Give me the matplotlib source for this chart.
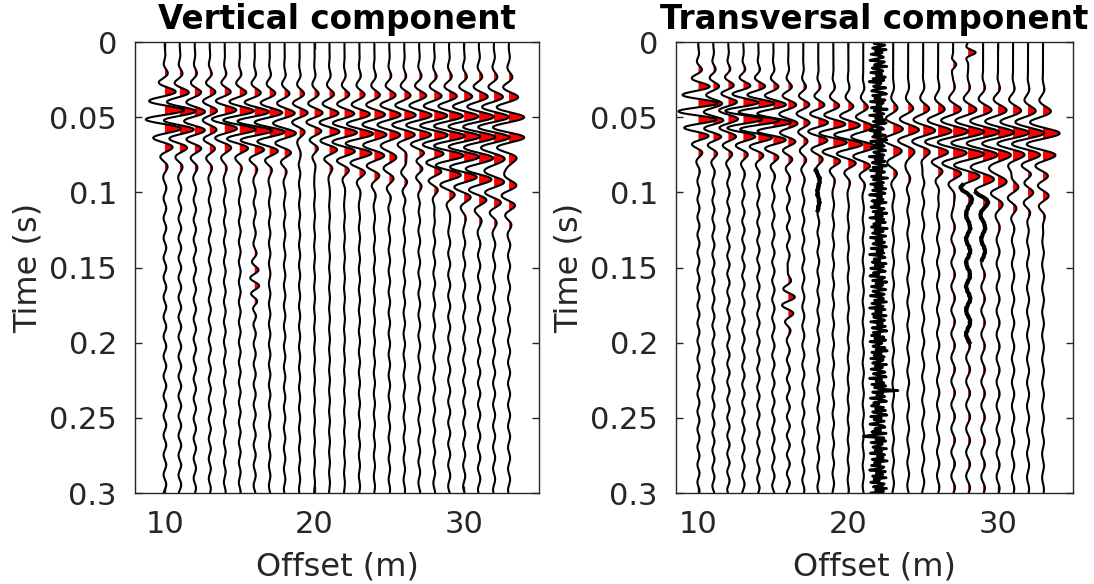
import numpy as np
import matplotlib
matplotlib.use("Agg")
import matplotlib.pyplot as plt

# receiver offsets (m)
offsets = list(range(10, 34))

# vertical component: main (flat) wave train, one value per trace
v_amp = [0.85, 0.85, 0.84, 0.82, 0.80, 0.78, 0.75, 0.72, 0.68, 0.65, 0.64, 0.64,
         0.66, 0.70, 0.74, 0.78, 0.82, 0.86, 0.90, 0.93, 0.96, 0.98, 1.00, 1.02]
v_center = [0.050, 0.050, 0.051, 0.051, 0.052, 0.052, 0.053, 0.053, 0.054, 0.054, 0.055, 0.055,
            0.055, 0.056, 0.056, 0.056, 0.057, 0.057, 0.057, 0.058, 0.058, 0.058, 0.058, 0.058]
v_phase = [0.0450, 0.0452, 0.0454, 0.0457, 0.0459, 0.0461, 0.0463, 0.0465, 0.0468, 0.0470, 0.0472, 0.0474,
           0.0476, 0.0479, 0.0481, 0.0483, 0.0485, 0.0487, 0.0490, 0.0492, 0.0494, 0.0496, 0.0498, 0.0500]
v_period = [0.0125, 0.0125, 0.0126, 0.0126, 0.0127, 0.0127, 0.0128, 0.0128, 0.0129, 0.0129, 0.0130, 0.0130,
            0.0130, 0.0131, 0.0131, 0.0132, 0.0132, 0.0133, 0.0133, 0.0134, 0.0134, 0.0135, 0.0135, 0.0135]
v_width = [0.023, 0.023, 0.023, 0.023, 0.022, 0.022, 0.022, 0.022, 0.022, 0.022, 0.022, 0.023,
           0.023, 0.024, 0.024, 0.025, 0.025, 0.026, 0.026, 0.027, 0.027, 0.028, 0.028, 0.028]
# vertical component: slower dipping wave train
v_amp2 = [0.42, 0.42, 0.42, 0.42, 0.41, 0.40, 0.39, 0.38, 0.37, 0.36, 0.36, 0.36,
          0.37, 0.38, 0.40, 0.42, 0.45, 0.48, 0.51, 0.54, 0.56, 0.58, 0.60, 0.60]
v_center2 = [0.046, 0.048, 0.050, 0.052, 0.055, 0.057, 0.059, 0.061, 0.063, 0.066, 0.068, 0.070,
             0.072, 0.074, 0.077, 0.079, 0.081, 0.083, 0.085, 0.088, 0.090, 0.092, 0.094, 0.096]
v_width2 = [0.016, 0.016, 0.016, 0.016, 0.016, 0.016, 0.016, 0.016, 0.016, 0.016, 0.016, 0.016,
            0.017, 0.017, 0.017, 0.018, 0.018, 0.018, 0.019, 0.019, 0.019, 0.020, 0.020, 0.020]
v_coda = [0.09, 0.09, 0.08, 0.07, 0.06, 0.06, 0.07, 0.05, 0.05, 0.04, 0.03, 0.03,
          0.03, 0.04, 0.04, 0.05, 0.05, 0.06, 0.06, 0.07, 0.07, 0.08, 0.07, 0.07]
# extra wave packets: (offset, time, amplitude, width)
v_extra = [(16, 0.162, 0.35, 0.016)]

# transversal component: main wave train
h_amp = [1.00, 0.98, 0.95, 0.92, 0.88, 0.84, 0.76, 0.70, 0.65, 0.62, 0.60, 0.60,
         0.0, 0.70, 0.78, 0.84, 0.88, 0.92, 0.96, 0.98, 1.00, 1.02, 1.05, 1.08]
h_center = [0.046, 0.047, 0.048, 0.049, 0.050, 0.052, 0.054, 0.056, 0.058, 0.060, 0.062, 0.063,
            0.064, 0.064, 0.064, 0.064, 0.064, 0.064, 0.064, 0.064, 0.064, 0.064, 0.064, 0.064]
h_phase = [0.0400, 0.0402, 0.0404, 0.0406, 0.0408, 0.0410, 0.0413, 0.0416, 0.0419, 0.0422, 0.0425, 0.0428,
           0.0431, 0.0434, 0.0437, 0.0440, 0.0442, 0.0444, 0.0446, 0.0448, 0.0450, 0.0452, 0.0454, 0.0456]
h_period = [0.0112, 0.0113, 0.0114, 0.0115, 0.0116, 0.0118, 0.0120, 0.0122, 0.0124, 0.0126, 0.0128, 0.0130,
            0.0135, 0.0140, 0.0145, 0.0148, 0.0150, 0.0150, 0.0150, 0.0150, 0.0150, 0.0150, 0.0150, 0.0150]
h_width = [0.022, 0.022, 0.022, 0.022, 0.022, 0.022, 0.022, 0.022, 0.022, 0.022, 0.022, 0.022,
           0.022, 0.020, 0.020, 0.021, 0.021, 0.022, 0.022, 0.022, 0.022, 0.021, 0.020, 0.020]
# transversal component: slower dipping wave train
h_amp2 = [0.50, 0.50, 0.48, 0.46, 0.45, 0.44, 0.42, 0.40, 0.38, 0.36, 0.35, 0.35,
          0.0, 0.35, 0.36, 0.38, 0.40, 0.42, 0.44, 0.46, 0.46, 0.45, 0.44, 0.42]
h_center2 = [0.042, 0.045, 0.047, 0.050, 0.052, 0.055, 0.058, 0.060, 0.063, 0.066, 0.068, 0.071,
             0.073, 0.076, 0.079, 0.081, 0.084, 0.086, 0.089, 0.092, 0.094, 0.097, 0.100, 0.102]
h_width2 = [0.016] * 24
h_coda = [0.07, 0.07, 0.08, 0.08, 0.08, 0.08, 0.10, 0.07, 0.06, 0.05, 0.04, 0.04,
          0.0, 0.05, 0.06, 0.07, 0.08, 0.12, 0.13, 0.12, 0.10, 0.08, 0.07, 0.06]
h_extra = [(16, 0.170, 0.40, 0.015), (28, 0.007, 0.50, 0.004), (27, 0.015, 0.20, 0.005)]
# jittery stretches on some traces: (offset, start, end, scale)
h_jitter = [(18, 0.085, 0.112, 0.10), (28, 0.095, 0.200, 0.08), (29, 0.100, 0.145, 0.06)]

# noisy trace (offset 22), sampled every 1 ms
noise_22 = [
    0.10, -0.22, 0.35, 0.05, -0.30, 0.42, -0.15, 0.20, -0.38, 0.12, 0.28, -0.05, -0.44, 0.33, 0.08,
    -0.20, 0.46, -0.32, 0.02, 0.25, -0.40, 0.18, -0.10, 0.38, -0.28, 0.30, -0.48, 0.15, 0.05, -0.25,
    0.40, -0.12, -0.35, 0.22, 0.44, -0.30, 0.10, -0.18, 0.36, -0.42, 0.26, -0.06, 0.14, -0.38, 0.48,
    -0.22, 0.04, 0.30, -0.46, 0.20, -0.14, 0.34, -0.26, 0.42, -0.08, -0.34, 0.18, 0.28, -0.44, 0.12,
    -0.20, 0.38, -0.30, 0.06, 0.46, -0.40, 0.22, -0.12, 0.32, -0.36, 0.16, 0.40, -0.24, -0.02, 0.30,
    -0.48, 0.24, -0.16, 0.36, -0.32, 0.10, 0.44, -0.28, 0.20, -0.42, 0.34, -0.08, 0.14, -0.36, 0.50,
    -0.26, 0.08, 0.28, -0.40, 0.22, -0.18, 0.40, -0.30, 0.12, 0.36, -0.46, 0.18, -0.04, 0.26, -0.34,
    0.42, -0.20, 0.06, -0.38, 0.32, 0.16, -0.28, 0.46, -0.14, 0.22, -0.44, 0.30, -0.10, 0.38, -0.24,
    0.10, -0.36, 0.48, -0.18, 0.26, -0.30, 0.04, 0.40, -0.42, 0.20, -0.12, 0.34, -0.28, 0.14, 0.44,
    -0.38, 0.24, -0.06, 0.30, -0.46, 0.18, 0.36, -0.22, 0.08, -0.32, 0.42, -0.16, 0.28, -0.40, 0.12,
    0.38, -0.26, 0.02, -0.44, 0.34, 0.20, -0.30, 0.46, -0.12, 0.24, -0.36, 0.10, 0.40, -0.28, -0.08,
    0.32, -0.42, 0.18, 0.28, -0.20, 0.44, -0.34, 0.06, 0.26, -0.46, 0.36, -0.14, 0.16, -0.30, 0.42,
    -0.24, 0.10, 0.34, -0.40, 0.22, -0.04, 0.38, -0.32, 0.14, 0.46, -0.26, 0.08, -0.36, 0.30, -0.18,
    0.40, -0.44, 0.20, 0.02, -0.28, 0.36, -0.12, 0.48, -0.34, 0.16, -0.22, 0.32, -0.40, 0.26, 0.06,
    -0.30, 0.44, -0.16, 0.22, -0.38, 0.12, 0.36, -0.26, 0.04, 0.42, -0.46, 0.18, -0.10, 0.30, -0.34,
    0.40, -0.20, 0.14, 1.05, -0.30, 0.24, -0.08, 0.34, -0.42, 0.20, 0.44, -0.24, 0.02, -0.36, 0.28,
    -0.14, 0.38, -0.30, 0.10, 0.46, -0.40, 0.16, -0.22, 0.32, -0.06, -0.44, 0.26, 0.36, -0.18, 0.12,
    -0.34, 0.42, -0.26, -0.80, 0.30, -0.12, 0.40, -0.38, 0.22, 0.08, -0.28, 0.44, -0.16, 0.18, -0.42,
    0.34, -0.04, 0.26, -0.32, 0.48, -0.20, 0.10, -0.36, 0.30, 0.16, -0.46, 0.38, -0.10, 0.24, -0.30,
    0.42, -0.22, 0.06, -0.40, 0.32, 0.20, -0.26, 0.44, -0.14, 0.28, -0.38]
noise_offset = 22
noise_gain = 1.25

time_ticks = [0, 0.05, 0.1, 0.15, 0.2, 0.25, 0.3]
time_labels = ["0", "0.05", "0.1", "0.15", "0.2", "0.25", "0.3"]
offset_ticks = [10, 20, 30]

t = np.linspace(0, 0.3, 1501)


def wavelet(amp, tc, tp, period, width):
    return amp * np.exp(-((t - tc) / width) ** 2) * np.cos(2 * np.pi * (t - tp) / period)


def coda(amp, tp, period):
    ramp = np.clip((t - 0.02) / 0.03, 0, 1)
    return amp * ramp * np.cos(2 * np.pi * (t - tp) / (period * 1.05))


def draw_panel(ax, amp, center, phase, period, width, amp2, center2, width2, codas, extra, title,
               jitter=(), noisy=False):
    tn = np.linspace(0, 0.3, len(noise_22))
    for i, x0 in enumerate(offsets):
        lw = 1.5
        thick = []
        if noisy and x0 == noise_offset:
            tt = tn
            tr = noise_gain * np.array(noise_22)
            lw = 2.0
        else:
            tt = t
            tr = wavelet(amp[i], center[i], phase[i], period[i], width[i])
            tr = tr + wavelet(amp2[i], center2[i], center2[i], period[i], width2[i])
            tr = tr + coda(codas[i], phase[i], period[i])
            for off, te, ae, we in extra:
                if off == x0:
                    tr = tr + wavelet(ae, te, te, 0.011, we)
            for off, t1, t2, sc in jitter:
                if off == x0:
                    seg = (t > t1) & (t < t2)
                    tr[seg] += sc * np.interp(t[seg], tn, noise_22)
                    thick.append(seg)
        ax.fill_betweenx(tt, x0, x0 + tr, where=tr > 0, interpolate=True, color="red", lw=0)
        ax.plot(x0 + tr, tt, color="black", lw=lw)
        for seg in thick:
            ax.plot(x0 + tr[seg], tt[seg], color="black", lw=3.0)
    ax.set_ylim(0.3, 0)
    ax.set_yticks(time_ticks)
    ax.set_yticklabels(time_labels)
    ax.set_xticks(offset_ticks)
    ax.tick_params(direction="in", length=5, width=1, colors="#262626", labelsize=22,
                   top=True, right=True)
    ax.tick_params(axis="x", pad=12)
    ax.tick_params(axis="y", pad=13)
    for s in ax.spines.values():
        s.set_color("#262626")
        s.set_linewidth(1)
    ax.set_xlabel("Offset (m)", fontsize=23, color="#262626", labelpad=9)
    ax.set_ylabel("Time (s)", fontsize=23, color="#262626", labelpad=4)
    ax.set_title(title, fontsize=23.5, fontweight="bold", pad=9)


fig = plt.figure(figsize=(10.94, 5.84), dpi=100)
ax1 = fig.add_axes([135 / 1094, 91 / 584, 404 / 1094, 451 / 584])
ax2 = fig.add_axes([676 / 1094, 91 / 584, 397 / 1094, 451 / 584])

draw_panel(ax1, v_amp, v_center, v_phase, v_period, v_width, v_amp2, v_center2, v_width2,
           v_coda, v_extra, "Vertical component")
draw_panel(ax2, h_amp, h_center, h_phase, h_period, h_width, h_amp2, h_center2, h_width2,
           h_coda, h_extra, "Transversal component", jitter=h_jitter, noisy=True)
ax1.set_xlim(8, 35)
ax2.set_xlim(8.5, 35)

fig.savefig("out.png", dpi=100)
